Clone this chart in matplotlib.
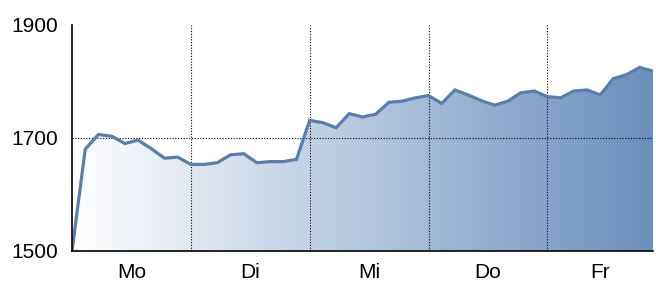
import numpy as np
import matplotlib.pyplot as plt
from matplotlib.colors import LinearSegmentedColormap

plt.rcParams['font.family'] = ['Liberation Sans', 'DejaVu Sans']

# intraday values, 9 points per day (Mo..Fr, Fr incomplete)
values = [1500, 1680, 1706, 1703, 1690, 1696, 1681, 1664, 1666,
          1653, 1653, 1656, 1670, 1672, 1656, 1658, 1658, 1662,
          1731, 1727, 1718, 1743, 1737, 1742, 1763, 1765, 1771,
          1775, 1761, 1785, 1776, 1766, 1758, 1765, 1780, 1783,
          1773, 1771, 1783, 1785, 1776, 1805, 1812, 1825, 1818]
days = ["Mo", "Di", "Mi", "Do", "Fr"]
day_pos = [4.5, 13.5, 22.5, 31.5, 40]
day_bounds = [9, 18, 27, 36]
yticks = [1500, 1700, 1900]

x = np.arange(len(values))

fig = plt.figure(figsize=(6.56, 3), dpi=100)
ax = fig.add_axes([0.1098, 0.164, 0.8856, 0.7527])
ax.set_xlim(0, len(values) - 1)
ax.set_ylim(1500, 1900)

# gradient fill under the line
cmap = LinearSegmentedColormap.from_list("grad", ["#ffffff", "#6a8fbc"])
grad = np.linspace(0, 1, 256).reshape(1, -1)
img = ax.imshow(grad, cmap=cmap, aspect="auto", extent=[0, len(values) - 1, 1500, 1900],
                zorder=1)
poly = ax.fill_between(x, values, 1500, color="none", lw=0)
img.set_clip_path(poly.get_paths()[0], transform=ax.transData)

ax.plot(x, values, color="#5b7dac", lw=2.3, zorder=3, solid_joinstyle="miter")

# dotted grid
for b in day_bounds:
    ax.axvline(b, color="black", ls=(0, (1, 1.5)), lw=0.8, zorder=2)
ax.axhline(1700, color="black", ls=(0, (1, 1.5)), lw=0.8, zorder=2)

ax.set_yticks(yticks)
ax.set_yticklabels([str(t) for t in yticks])
ax.set_xticks(day_pos)
ax.set_xticklabels(days)
ax.tick_params(length=0, labelsize=15, pad=0)
ax.tick_params(axis="y", pad=10)
ax.tick_params(axis="x", pad=9)

for s in ["top", "right"]:
    ax.spines[s].set_visible(False)
for s in ["left", "bottom"]:
    ax.spines[s].set_linewidth(1.2)
    ax.spines[s].set_zorder(4)

fig.savefig("out.png", dpi=100)
